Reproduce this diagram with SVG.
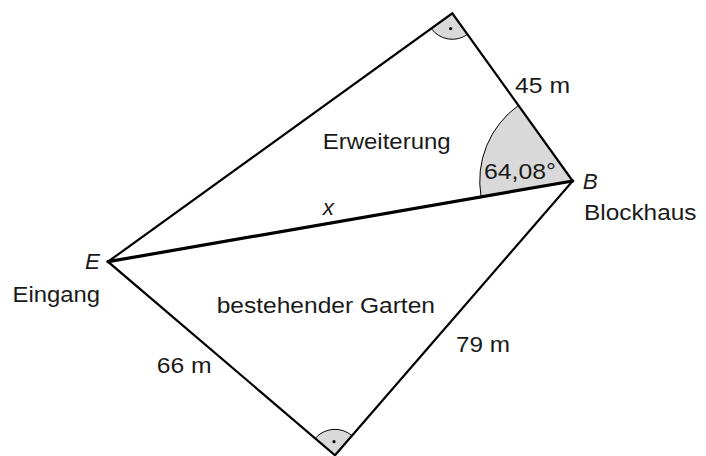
<svg xmlns="http://www.w3.org/2000/svg" width="706" height="456" viewBox="0 0 706 456">
<style>
.edge{fill:none;stroke:#000;stroke-width:2.2;stroke-linejoin:miter}
.xline{fill:none;stroke:#000;stroke-width:3.2;stroke-linecap:round}
.ang{fill:#d9d9d9;stroke:#000;stroke-width:1}
.lbl{font-family:"Liberation Sans",Arial,sans-serif;font-size:22.5px;fill:#1a1a1a}
.it{font-style:italic}
</style>
<rect width="706" height="456" fill="#fff"/>
<g id="angles">
<path class="ang" d="M572.7,181 L481.1,196.9 A93,93 0 0 1 518.5,105.4 Z"/>
<path class="ang" d="M452.3,13.3 L431.2,28.5 A26,26 0 0 0 467.5,34.4 Z"/>
<circle cx="450.6" cy="28.6" r="1.6" fill="#000"/>
<path class="ang" d="M335,455.3 L315.2,438.4 A26,26 0 0 1 352,435.7 Z"/>
<circle cx="334" cy="441.7" r="1.6" fill="#000"/>
</g>
<g id="connectors">
<path class="edge" d="M108,261.7 L452.3,13.3 L572.7,181 L335,455.3 Z"/>
<line class="xline" x1="108" y1="261.7" x2="572.7" y2="181"/>
</g>
<g id="node-E">
<text class="lbl it" x="85" y="269">E</text>
<text class="lbl" x="12.5" y="302" textLength="87.5" lengthAdjust="spacingAndGlyphs">Eingang</text>
</g>
<g id="node-B">
<text class="lbl it" x="582.7" y="189.3">B</text>
<text class="lbl" x="584" y="220" textLength="112.5" lengthAdjust="spacingAndGlyphs">Blockhaus</text>
</g>
<g id="labels">
<text class="lbl" x="322.7" y="149.3" textLength="128" lengthAdjust="spacingAndGlyphs">Erweiterung</text>
<text class="lbl it" x="322.7" y="215">x</text>
<text class="lbl" x="515" y="93.3" textLength="55" lengthAdjust="spacingAndGlyphs">45 m</text>
<text class="lbl" x="484" y="179" textLength="72" lengthAdjust="spacingAndGlyphs">64,08°</text>
<text class="lbl" x="216.7" y="313.3" textLength="218.3" lengthAdjust="spacingAndGlyphs">bestehender Garten</text>
<text class="lbl" x="456" y="351.7" textLength="54" lengthAdjust="spacingAndGlyphs">79 m</text>
<text class="lbl" x="156.7" y="372.7" textLength="55" lengthAdjust="spacingAndGlyphs">66 m</text>
</g>
</svg>
